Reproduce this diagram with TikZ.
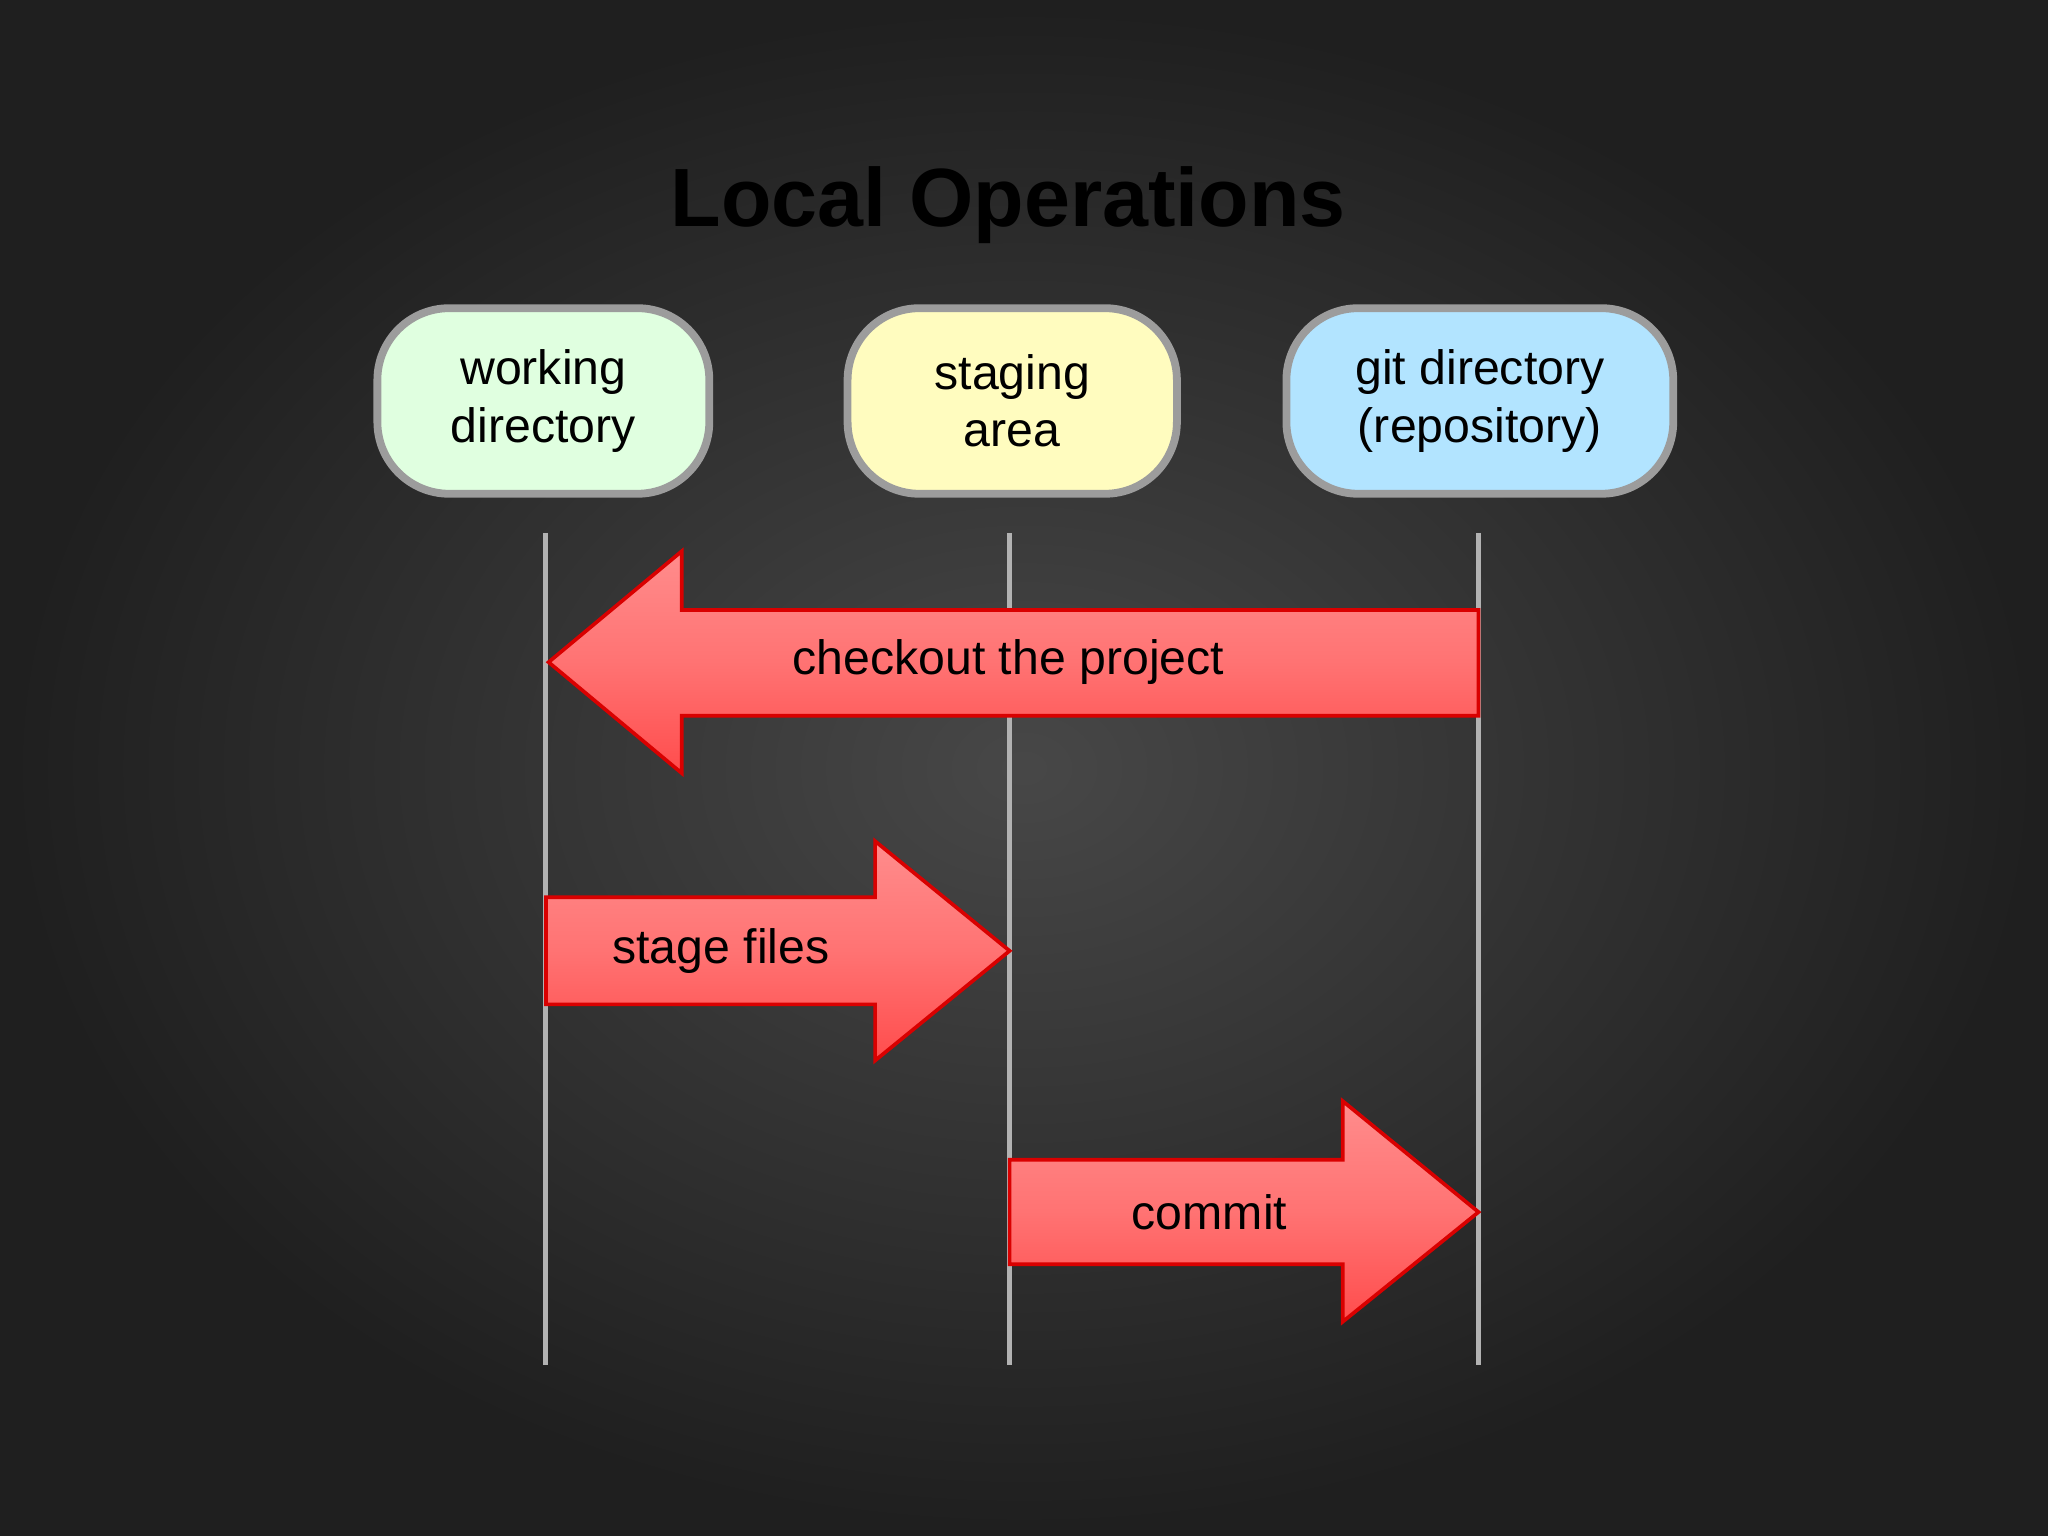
\documentclass[tikz,border=0pt]{standalone}
\usepackage{fontspec}
\setmainfont{Liberation Sans}
\begin{document}
\begin{tikzpicture}[x=0.01cm,y=-0.01cm,
  box/.style={draw=gray!70!black!60, line width=1.7pt, rounded corners=0.55cm, minimum height=1.42cm, align=center, font=\fontsize{10.5}{12.5}\selectfont, inner sep=0pt},
  life/.style={draw=gray!60, line width=1.1pt},
  arr/.style={draw=red!85!black, line width=0.8pt, top color=red!45!white, bottom color=red!70!white, middle color=red!55!white},
  lab/.style={font=\fontsize{10.5}{12.5}\selectfont}]
\useasboundingbox (0,0) rectangle (1568,1176);
\shade[inner color=black!72, outer color=black!88] (0,0) rectangle (1568,1176);
\node[font=\bfseries\fontsize{18}{20}\selectfont, text=black] (title) at (772,157) {Local Operations};
\node[box, fill=green!12!white, minimum width=2.54cm] (wd) at (416,307) {working\\directory};
\node[box, fill=yellow!25!white, minimum width=2.52cm] (sa) at (775,307) {staging\\area};
\node[box, fill=blue!35!cyan!30!white, minimum width=2.96cm] (gd) at (1133,307) {git directory\\(repository)};
\coordinate (wt) at (418,408); \coordinate (wb) at (418,1045);
\coordinate (st) at (773,408); \coordinate (sb) at (773,1045);
\coordinate (gt) at (1132,408); \coordinate (gb) at (1132,1045);
\draw[life] (wt) -- (wb); \draw[life] (st) -- (sb); \draw[life] (gt) -- (gb);
% checkout
\draw[arr] (1132,467) -- (522,467) -- (522,422) -- (420,507) -- (522,592) -- (522,548) -- (1132,548) -- cycle;
\node[lab] (c1) at (772,507) {checkout the project};
% stage
\draw[arr] (418,687) -- (670,687) -- (670,644) -- (773,728) -- (670,812) -- (670,769) -- (418,769) -- cycle;
\node[lab] (c2) at (552,728) {stage files};
% commit
\draw[arr] (773,888) -- (1028,888) -- (1028,843) -- (1132,928) -- (1028,1012) -- (1028,968) -- (773,968) -- cycle;
\node[lab] (c3) at (926,928) {commit};
\end{tikzpicture}
\end{document}
